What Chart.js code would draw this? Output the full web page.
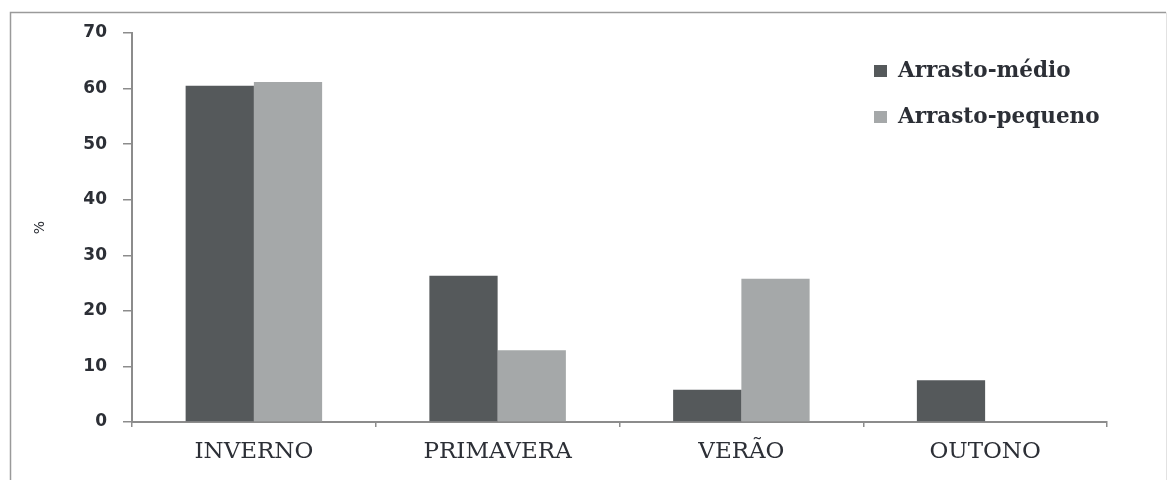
<!DOCTYPE html>
<html>
<head>
<meta charset="utf-8">
<script src="https://cdn.jsdelivr.net/npm/chart.js@4"></script>
<style>
  html, body { margin: 0; padding: 0; background: #ffffff; }
  #wrap { position: relative; width: 1170px; height: 480px; }
</style>
</head>
<body>
<div id="wrap"><canvas id="chart" width="1170" height="480"></canvas></div>
<script>
// Seasonal share (%) by trawl type
const seasons = ['INVERNO', 'PRIMAVERA', 'VERÃO', 'OUTONO'];
const seriesNames = ['Arrasto-médio', 'Arrasto-pequeno'];
const arrastoMedio = [60.5, 26.3, 5.8, 7.5];
const arrastoPequeno = [61.2, 12.9, 25.8, 0];
const yTicks = [0, 10, 20, 30, 40, 50, 60, 70];

const darkGrey = '#55595b';
const lightGrey = '#a5a8a9';
const axisGrey = '#8c8c8c';
const textColor = '#2c2f36';

// Outer frame around the figure
const framePlugin = {
  id: 'frame',
  beforeDraw(chart) {
    const ctx = chart.ctx;
    ctx.save();
    ctx.strokeStyle = '#9a9a9a';
    ctx.lineWidth = 1.5;
    ctx.beginPath();
    ctx.moveTo(10.5, 482);
    ctx.lineTo(10.5, 12.5);
    ctx.lineTo(1166, 12.5);
    ctx.stroke();
    ctx.strokeStyle = '#e2e2e2';
    ctx.lineWidth = 1;
    ctx.beginPath();
    ctx.moveTo(1166.5, 12.5);
    ctx.lineTo(1166.5, 482);
    ctx.stroke();
    ctx.restore();
  }
};

// Legend drawn inside the plot area, top right
const insideLegend = {
  id: 'insideLegend',
  afterDraw(chart) {
    const ctx = chart.ctx;
    const area = chart.chartArea;
    const x0 = area.right - 233;
    const y0 = 71;
    const rowGap = 46;
    ctx.save();
    ctx.font = 'bold 21.5px "DejaVu Serif"';
    ctx.textBaseline = 'middle';
    ctx.textAlign = 'left';
    chart.data.datasets.forEach((ds, i) => {
      const y = y0 + i * rowGap;
      ctx.fillStyle = ds.backgroundColor;
      ctx.fillRect(x0, y - 6, 13, 12);
      ctx.fillStyle = textColor;
      ctx.fillText(ds.label, x0 + 24, y);
    });
    ctx.restore();
  }
};

new Chart(document.getElementById('chart'), {
  type: 'bar',
  data: {
    labels: seasons,
    datasets: [
      { label: seriesNames[0], data: arrastoMedio, backgroundColor: darkGrey,
        barPercentage: 1, categoryPercentage: 0.56 },
      { label: seriesNames[1], data: arrastoPequeno, backgroundColor: lightGrey,
        barPercentage: 1, categoryPercentage: 0.56 }
    ]
  },
  options: {
    responsive: false,
    animation: false,
    layout: { padding: { left: 0, top: 33, right: 63, bottom: 0 } },
    plugins: {
      legend: { display: false },
      tooltip: { enabled: false }
    },
    scales: {
      x: {
        grid: { display: true, drawOnChartArea: false, offset: true,
                color: axisGrey, tickLength: 5, lineWidth: 1.5 },
        border: { color: axisGrey, width: 2 },
        ticks: { color: textColor, padding: 11,
                 font: { family: '"DejaVu Serif"', size: 23 } },
        afterFit(scale) { scale.height = 58; }
      },
      y: {
        min: 0,
        max: 70,
        afterBuildTicks(scale) { scale.ticks = yTicks.map(v => ({ value: v })); },
        grid: { display: true, drawOnChartArea: false, color: axisGrey,
                tickLength: 9, lineWidth: 1.5 },
        border: { color: axisGrey, width: 2 },
        ticks: { color: textColor, padding: 16,
                 font: { family: '"DejaVu Sans"', size: 17, weight: 'bold' } },
        title: { display: true, text: '%', color: textColor,
                 font: { family: '"DejaVu Sans"', size: 14 },
                 padding: { top: 32, bottom: 0 } },
        afterFit(scale) { scale.width = 132; }
      }
    }
  },
  plugins: [framePlugin, insideLegend]
});
</script>
</body>
</html>
